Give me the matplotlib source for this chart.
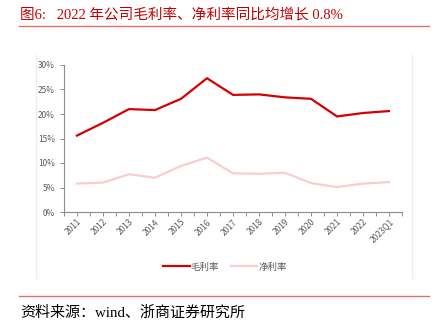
import matplotlib
matplotlib.use("Agg")
import matplotlib.pyplot as plt
from matplotlib.lines import Line2D

plt.rcParams['font.family'] = ['Noto Sans CJK SC', 'DejaVu Sans']

# data
years = ["2011", "2012", "2013", "2014", "2015", "2016", "2017", "2018",
         "2019", "2020", "2021", "2022", "2023Q1"]
gross_margin = [15.6, 18.2, 21.0, 20.8, 23.1, 27.3, 23.9, 24.0, 23.4, 23.1, 19.5, 20.2, 20.6]
net_margin = [5.8, 6.0, 7.7, 7.0, 9.4, 11.1, 7.9, 7.8, 8.0, 5.9, 5.1, 5.8, 6.1]
yticks = [0, 5, 10, 15, 20, 25, 30]

title = "图6:   2022 年公司毛利率、净利率同比均增长 0.8%"
source = "资料来源：wind、浙商证券研究所"

W, H = 441, 326
fig = plt.figure(figsize=(W / 100, H / 100), dpi=100)

serif_cjk = ['Liberation Serif', 'Noto Sans CJK SC']
fig.text(20 / W, 1 - 14 / H, title, color='#C00000', fontsize=10.5,
         family=serif_cjk, va='center', ha='left')
fig.add_artist(Line2D([19 / W, 429 / W], [1 - 26 / H] * 2, color='#E07070', lw=1.0))
fig.add_artist(Line2D([19 / W, 429 / W], [1 - 296 / H] * 2, color='#E07070', lw=1.0))
fig.text(20 / W, 1 - 313 / H, source, color='black', fontsize=10.8,
         family=serif_cjk, va='center', ha='left')

# light frame of the chart area
fig.add_artist(Line2D([36 / W] * 2, [1 - 55 / H, 1 - 278 / H], color='#EBEBEB', lw=0.8))
fig.add_artist(Line2D([412 / W] * 2, [1 - 55 / H, 1 - 278 / H], color='#EBEBEB', lw=0.8))

ax = fig.add_axes([64 / W, 1 - 212 / H, (402 - 64) / W, (212 - 65) / H])
x = list(range(len(years)))
l1, = ax.plot(x, gross_margin, color='#D50000', lw=1.6, label='毛利率')
l2, = ax.plot(x, net_margin, color='#F9CDCD', lw=1.6, label='净利率')

ax.set_xlim(-0.5, len(years) - 0.5)
ax.set_ylim(0, 30)
ax.set_yticks(yticks)
ax.set_yticklabels([f"{v}%" for v in yticks])
ax.set_xticks(x)
ax.set_xticklabels(years, rotation=45, ha='right', rotation_mode='anchor')
ax.set_xticks([i - 0.5 for i in range(len(years) + 1)], minor=True)

for s in ['top', 'right']:
    ax.spines[s].set_visible(False)
for s in ['left', 'bottom']:
    ax.spines[s].set_color('#8C8C8C')
    ax.spines[s].set_linewidth(0.8)
ax.tick_params(axis='both', which='both', colors='#8C8C8C', labelcolor='#595959',
               labelsize=6, length=3, width=0.7, direction='out')
ax.tick_params(axis='x', which='major', pad=1)

fig.legend(handles=[l1, l2], loc='center', bbox_to_anchor=(225 / W, 1 - 267 / H),
           ncol=2, frameon=False, fontsize=6.8, handlelength=2.8,
           columnspacing=1.2, handletextpad=0.1, labelcolor='#595959')

fig.savefig("out.png", dpi=100)
